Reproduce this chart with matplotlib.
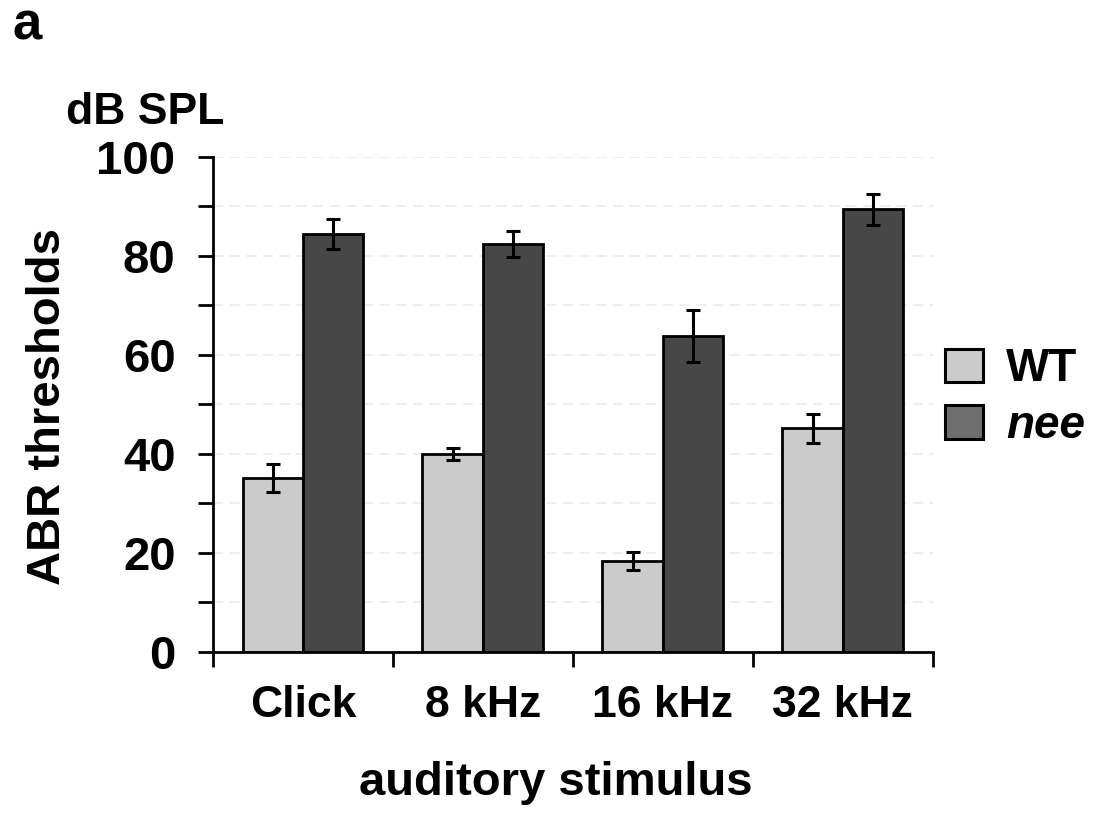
import numpy as np
import matplotlib.pyplot as plt
from matplotlib.patches import Patch

plt.rcParams['font.family'] = ['Liberation Sans', 'DejaVu Sans']
plt.rcParams['font.weight'] = 'bold'

# data
categories = ["Click", "8 kHz", "16 kHz", "32 kHz"]
wt_mean = [35.2, 40.0, 18.4, 45.2]
wt_err = [2.8, 1.2, 1.8, 2.9]
nee_mean = [84.4, 82.4, 63.8, 89.4]
nee_err = [3.0, 2.6, 5.3, 3.2]

x = np.arange(len(categories))
w = 0.336

fig = plt.figure(figsize=(10.94, 8.17), dpi=100)
ax = fig.add_axes([0.1947, 0.202, 0.658, 0.606])

# faint dashed grid
for yv in range(10, 101, 10):
    ax.axhline(yv, color="#ebebeb", lw=1.2, ls=(0, (6, 4)), zorder=0)

ekw = dict(elinewidth=2.2, capthick=2.2, ecolor="black")
ax.bar(x - w / 2, wt_mean, w, color="#cbcbcb", edgecolor="black", lw=2,
       yerr=wt_err, capsize=5, error_kw=ekw, zorder=2)
ax.bar(x + w / 2, nee_mean, w, color="#474747", edgecolor="black", lw=2,
       yerr=nee_err, capsize=5, error_kw=ekw, zorder=2)

ax.set_xlim(-0.5, len(categories) - 0.5)
ax.set_ylim(0, 100)
ax.set_xticks(np.arange(-0.5, len(categories), 1.0))
ax.set_xticklabels([])
ax.set_xticks(x, minor=True)
ax.set_xticklabels(categories, minor=True, fontsize=32, fontweight="bold")
ax.tick_params(axis="x", which="minor", length=0, pad=24)
ax.tick_params(axis="x", which="major", length=11, width=2.0, direction="out")

ax.set_yticks(range(0, 101, 20))
ax.set_yticks(range(0, 101, 10), minor=True)
ax.set_yticklabels([str(v) for v in range(0, 101, 20)], fontsize=34, fontweight="bold")
ax.tick_params(axis="y", which="both", length=11, width=2.0, direction="out", pad=16)

for s in ["top", "right"]:
    ax.spines[s].set_visible(False)
for s in ["left", "bottom"]:
    ax.spines[s].set_linewidth(2.0)

ax.set_ylabel("ABR thresholds", fontsize=34, fontweight="bold")
ax.yaxis.label.set_va("center")
ax.yaxis.set_label_coords(-0.229, 0.495)
ax.set_xlabel("auditory stimulus", fontsize=34, fontweight="bold")
ax.xaxis.set_label_coords(0.476, -0.22)

fig.text(0.133, 0.848, "dB SPL", fontsize=32, fontweight="bold",
         ha="center", va="baseline")
fig.text(0.025, 0.952, "a", fontsize=38, fontweight="bold",
         ha="center", va="baseline")

handles = [Patch(facecolor="#cbcbcb", edgecolor="black", lw=2.2),
           Patch(facecolor="#6e6e6e", edgecolor="black", lw=2.2)]
leg = fig.legend(handles, ["WT", "nee"], loc="center left",
                 bbox_to_anchor=(0.864, 0.513), frameon=False, fontsize=33,
                 handlelength=0.83, handleheight=0.76, handletextpad=0.5,
                 labelspacing=0.28, borderpad=0, borderaxespad=0)
for t in leg.get_texts():
    t.set_fontweight("bold")
leg.get_texts()[1].set_fontstyle("italic")

fig.savefig("out.png", dpi=100)
